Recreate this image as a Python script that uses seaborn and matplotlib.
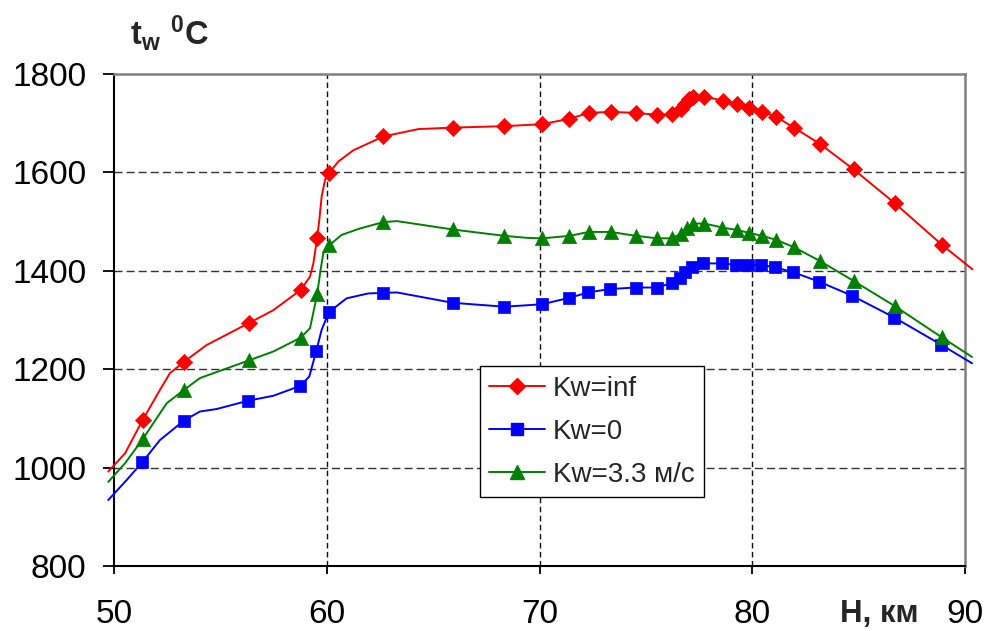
import matplotlib
matplotlib.use("Agg")
import matplotlib.pyplot as plt
from matplotlib.lines import Line2D
import numpy as np
import pandas as pd
import seaborn as sns

# ---------------- data ----------------
series_names = ["Kw=inf", "Kw=0", "Kw=3.3 м/с"]
colors = ["#FF0000", "#0000FF", "#008000"]
markers = ["D", "s", "^"]

# marker points
red_mx = [51.35, 53.29, 56.35, 58.77, 59.55, 60.12, 62.66, 65.92, 68.35, 70.13, 71.40, 72.33,
          73.34, 74.54, 75.54, 76.22, 76.63, 76.84, 77.04, 77.23, 77.75, 78.61, 79.27, 79.87,
          80.47, 81.12, 81.96, 83.18, 84.77, 86.71, 88.91]
red_my = [1097, 1215, 1294, 1361, 1467, 1599, 1673, 1691, 1694, 1698, 1709, 1721,
          1723, 1721, 1717, 1718, 1728, 1740, 1749, 1754, 1754, 1746, 1739, 1730,
          1723, 1713, 1691, 1658, 1606, 1537, 1453]

blue_mx = [51.33, 53.27, 56.31, 58.75, 59.50, 60.10, 62.63, 65.92, 68.35, 70.13, 71.39, 72.29,
           73.32, 74.52, 75.52, 76.21, 76.60, 76.84, 77.19, 77.70, 78.56, 79.24, 79.81, 80.41,
           81.07, 81.93, 83.14, 84.71, 86.68, 88.87]
blue_my = [1011, 1095, 1136, 1166, 1236, 1316, 1355, 1335, 1327, 1332, 1345, 1356,
           1363, 1366, 1366, 1375, 1385, 1397, 1408, 1415, 1415, 1412, 1412, 1412,
           1407, 1397, 1378, 1349, 1305, 1250]

green_mx = [51.35, 53.29, 56.35, 58.77, 59.55, 60.12, 62.66, 65.92, 68.35, 70.13, 71.40, 72.33,
            73.34, 74.54, 75.54, 76.22, 76.63, 76.91, 77.23, 77.75, 78.60, 79.27, 79.87, 80.47,
            81.12, 81.96, 83.18, 84.78, 86.71, 88.90]
green_my = [1058, 1158, 1218, 1264, 1352, 1452, 1499, 1484, 1471, 1466, 1471, 1479,
            1479, 1471, 1466, 1466, 1475, 1486, 1496, 1496, 1488, 1483, 1477, 1471,
            1463, 1448, 1420, 1379, 1328, 1265]

# additional points of the curves (no markers)
red_lx = [49.73, 50.52, 52.16, 52.63, 54.35, 57.49, 59.21, 59.37, 59.65, 59.76, 59.92,
          60.54, 61.25, 64.30, 90.35]
red_ly = [992, 1029, 1158, 1192, 1249, 1320, 1388, 1415, 1503, 1551, 1585,
          1622, 1645, 1688, 1403]
blue_lx = [49.73, 50.60, 52.16, 54.04, 54.82, 57.49, 59.18, 59.76, 60.93, 61.95, 63.30, 90.33]
blue_ly = [934, 975, 1056, 1114, 1119, 1146, 1185, 1280, 1344, 1354, 1356, 1212]
green_lx = [49.73, 50.52, 52.48, 54.04, 57.49, 59.21, 59.71, 59.84, 60.70, 61.56, 63.30, 69.40, 90.33]
green_ly = [971, 1009, 1131, 1182, 1236, 1283, 1402, 1436, 1473, 1486, 1501, 1467, 1225]

x_ticks = [50, 60, 70, 80, 90]
y_ticks = [800, 1000, 1200, 1400, 1600, 1800]

# ---------------- build tables ----------------
mk = pd.concat([
    pd.DataFrame({"H": red_mx, "t": red_my, "s": series_names[0]}),
    pd.DataFrame({"H": blue_mx, "t": blue_my, "s": series_names[1]}),
    pd.DataFrame({"H": green_mx, "t": green_my, "s": series_names[2]}),
], ignore_index=True)

ln = pd.concat([
    pd.DataFrame({"H": red_mx + red_lx, "t": red_my + red_ly, "s": series_names[0]}),
    pd.DataFrame({"H": blue_mx + blue_lx, "t": blue_my + blue_ly, "s": series_names[1]}),
    pd.DataFrame({"H": green_mx + green_lx, "t": green_my + green_ly, "s": series_names[2]}),
], ignore_index=True).sort_values(["s", "H"])

# ---------------- style ----------------
sns.set_style("white")
plt.rcParams["font.family"] = ["Liberation Sans", "DejaVu Sans"]
plt.rcParams["mathtext.fontset"] = "custom"
plt.rcParams["mathtext.rm"] = "Liberation Sans"
plt.rcParams["mathtext.bf"] = "Liberation Sans:bold"
plt.rcParams["lines.scale_dashes"] = False

fig = plt.figure(figsize=(9.86, 6.31), dpi=100)
ax = fig.add_axes([114 / 986, 1 - 566 / 631, 851 / 986, 492 / 631])

palette = dict(zip(series_names, colors))

sns.lineplot(data=ln, x="H", y="t", hue="s", palette=palette, sort=False,
             estimator=None, linewidth=1.4, legend=False, ax=ax, zorder=3)
for line in ax.get_lines():
    line.set_clip_on(False)
    line.set_solid_joinstyle("round")

for name, c, m, s in zip(series_names, colors, markers, [68, 66, 105]):
    sub = mk[mk["s"] == name]
    sns.scatterplot(data=sub, x="H", y="t", color=c, marker=m, s=s,
                    edgecolor=c, linewidth=0.5, legend=False, ax=ax, zorder=4)

ax.set_xlim(50, 90)
ax.set_ylim(800, 1800)
ax.set_xticks(x_ticks)
ax.set_yticks(y_ticks)
ax.set_xticklabels([str(v) for v in x_ticks])
ax.set_yticklabels([str(v) for v in y_ticks])
ax.tick_params(axis="y", direction="out", length=8, width=1.3, pad=12,
               labelsize=24, colors="black", left=True)
ax.tick_params(axis="x", direction="out", length=6, width=1.3, pad=18,
               labelsize=24, colors="black", bottom=True)
ax.set_xlabel("")
ax.set_ylabel("")

# grid
for gy in [1000, 1200, 1400, 1600]:
    ax.axhline(gy, color="#333333", lw=1.0, ls=(0, (5.8, 2.9)), zorder=1)
for gx in [60, 70, 80]:
    ax.axvline(gx, color="#111111", lw=1.0, ls=(0, (4.0, 2.5)), zorder=1)

for side in ["left", "bottom"]:
    ax.spines[side].set_color("black")
    ax.spines[side].set_linewidth(1.5)
for side in ["top", "right"]:
    ax.spines[side].set_color("#808080")
    ax.spines[side].set_linewidth(1.8)
    ax.spines[side].set_visible(True)

# legend
handles = [Line2D([0], [0], color=c, marker=m, markersize=ms, lw=1.4)
           for c, m, ms in zip(colors, markers, [8, 8, 10])]
leg = ax.legend(handles, series_names, loc="lower left",
                bbox_to_anchor=(0.430, 0.140), borderaxespad=0,
                fontsize=20, frameon=True, fancybox=False, framealpha=1,
                edgecolor="black", handlelength=2.0, handletextpad=0.3,
                labelspacing=0.62, borderpad=0.33)
leg.get_frame().set_linewidth(1.0)
leg.set_zorder(10)

# axis titles
fig.text(130 / 986, 1 - 45 / 631, r"$\mathbf{t_w}\ \mathbf{{}^{0}C}$", fontsize=23.5,
         ha="left", va="baseline")
fig.text(840 / 986, 1 - 622 / 631, "H, км", fontsize=22.5, fontweight="bold",
         ha="left", va="baseline")

fig.savefig("out.png", dpi=100)
